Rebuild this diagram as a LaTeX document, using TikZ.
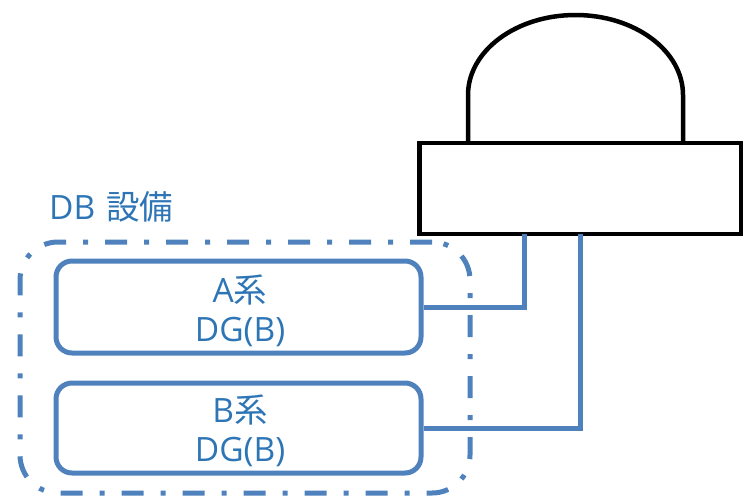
\documentclass[tikz,border=0pt]{standalone}
\usepackage{fontspec}
\setmainfont{Open Sans}
\newfontfamily\jp{Noto Sans CJK JP}
\definecolor{lineblue}{HTML}{4F81BD}
\definecolor{textblue}{HTML}{2E75B6}
\begin{document}
\begin{tikzpicture}[x=1pt,y=-1pt,
  blk/.style={draw=black,line width=4.5pt},
  sysbox/.style={draw=lineblue,line width=5pt,rounded corners=16pt,
    minimum width=365pt,inner sep=0pt},
  grp/.style={draw=lineblue,line width=5pt,rounded corners=38pt,
    dash pattern=on 22pt off 17pt on 5pt off 17pt,inner sep=0pt},
  wire/.style={draw=lineblue,line width=5pt},
  lbl/.style={text=textblue,font=\fontsize{33.5}{39}\selectfont,inner sep=0pt}]
\useasboundingbox (0,0) rectangle (743,496);
% group
\node[grp,minimum width=450pt,minimum height=251pt] (db) at (245,367.5) {};
\node[lbl,anchor=base west] (dblabel) at (49,219) {DB\hspace{0.32em}{\jp 設備}};
% tank
\node[blk,minimum width=322pt,minimum height=91pt,inner sep=0pt] (tank) at (580.5,188.5) {};
\draw[blk,draw=black] (468,143.5) -- (468,95)
  .. controls (468,50.8) and (516.1,15) .. (575.5,15)
  .. controls (634.9,15) and (683,50.8) .. (683,95) -- (683,143.5);
% systems
\node[sysbox,minimum height=92pt] (a) at (238.5,307) {};
\node[sysbox,minimum height=90pt] (b) at (238.5,428) {};
\node[lbl,anchor=base] (a1) at (240,302) {A{\jp 系}};
\node[lbl,anchor=base] (a2) at (240,341) {DG(B)};
\node[lbl,anchor=base] (b1) at (240,422) {B{\jp 系}};
\node[lbl,anchor=base] (b2) at (240,461) {DG(B)};
% connection points
\coordinate (pA) at (524,234);
\coordinate (pB) at (580,234);
\draw[wire] (a.east) -| (pA);
\draw[wire] (b.east) -| (pB);
\end{tikzpicture}
\end{document}
